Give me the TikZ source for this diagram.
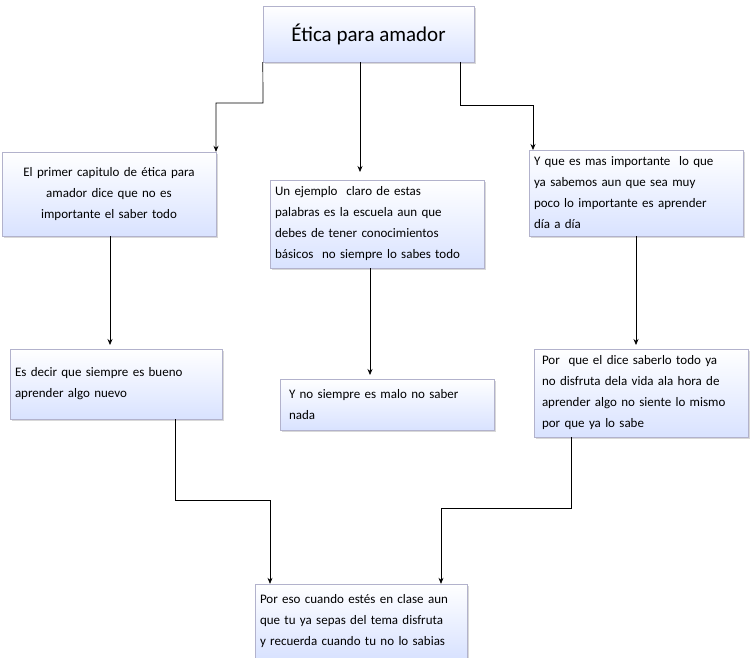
\documentclass[tikz,border=0pt]{standalone}
\usepackage{fontspec}
\setmainfont{Carlito}
\usetikzlibrary{shadows,arrows.meta}
\begin{document}
\begin{tikzpicture}[x=1pt,y=-1pt,
 bx/.style={draw=blue!20!gray!50, top color=white, bottom color=cyan!25!blue!15, drop shadow={shadow xshift=2pt,shadow yshift=-2pt,fill=gray!60},
   inner sep=0pt, font=\fontsize{13}{21}\selectfont},
 ar/.style={draw=black, line width=0.7pt, -{Stealth[length=6pt,width=5pt]}}]
\useasboundingbox (0,0) rectangle (750,658);
\node[bx, minimum width=211, minimum height=56, font=\fontsize{21}{24}\selectfont] (t) at (368.5,34) {Ética para amador};
\node[bx, minimum width=214, minimum height=84, text width=200, align=center] (b1) at (109,194) {El primer capitulo de ética para\\amador dice que no es\\importante el saber todo\\[4pt]};
\node[bx, minimum width=214, minimum height=88, text width=204, align=left] (b2) at (377,224) {Un ejemplo \ claro de estas\\palabras es la escuela aun que\\debes de tener conocimientos\\básicos \ no siempre lo sabes todo};
\node[bx, minimum width=214, minimum height=86, text width=204, align=left] (b3) at (636,193) {Y que es mas importante \ lo que\\ya sabemos aun que sea muy\\poco lo importante es aprender\\día a día};
\node[bx, minimum width=212, minimum height=70, text width=202, align=left] (b4) at (116,384) {Es decir que siempre es bueno\\aprender algo nuevo\\[14pt]};
\node[bx, minimum width=214, minimum height=51, text width=196, align=left] (b5) at (387,404.5) {Y no siempre es malo no saber\\nada};
\node[bx, minimum width=214, minimum height=88, text width=198, align=left] (b6) at (641,393) {Por \ que el dice saberlo todo ya\\no disfruta dela vida ala hora de\\aprender algo no siente lo mismo\\por que ya lo sabe};
\node[bx, minimum width=212, minimum height=74, text width=202, align=left] (b7) at (361,621) {Por eso cuando estés en clase aun\\que tu ya sepas del tema disfruta\\y recuerda cuando tu no lo sabias};
\coordinate (c1) at (263,103);
\coordinate (c2) at (216,103);
\draw[ar] (t.south west) -- (c1) -- (c2) -- (b1.north west -| c2);
\draw[ar] (t.south -| 360,0) -- (360,172);
\draw[ar] (460,62) -- (460,105) -- (533,105) -- (533,150);
\draw[ar] (b1.south -| 110,0) -- (110,345);
\draw[ar] (b2.south -| 370,0) -- (370,375);
\draw[ar] (b3.south -| 636,0) -- (636,345);
\draw[ar] (b4.south -| 175,0) -- (175,500) -- (270,500) -- (b7.north -| 270,0);
\draw[ar] (b6.south -| 571,0) -- (571,508) -- (441,508) -- (b7.north -| 441,0);
\end{tikzpicture}
\end{document}
